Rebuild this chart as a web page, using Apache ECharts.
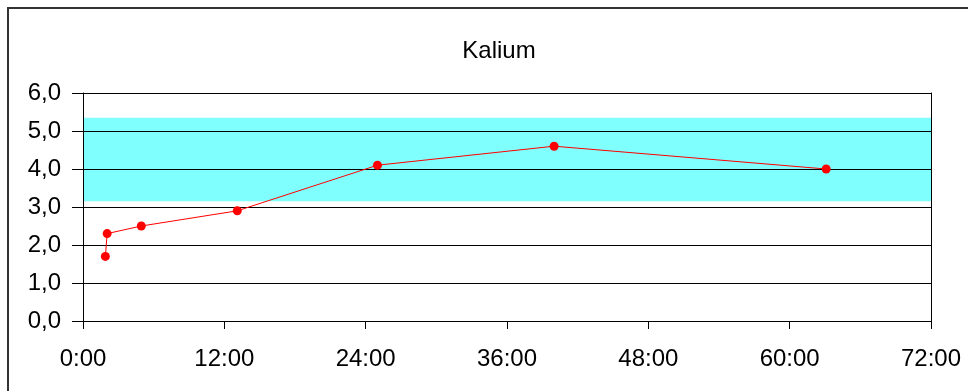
<!DOCTYPE html>
<html>
<head>
<meta charset="utf-8">
<script src="https://cdn.jsdelivr.net/npm/echarts@6/dist/echarts.min.js"></script>
<style>
  html, body { margin: 0; padding: 0; background: #fff; }
  #chart { width: 968px; height: 391px; }
</style>
</head>
<body>
<div id="chart"></div>
<script>
// Potassium measurements: hours since start and value (mmol/l)
const sampleHours = [1.9, 2.05, 4.95, 13.1, 25.0, 40.0, 63.1];
const kaliumValues = [1.7, 2.3, 2.5, 2.9, 4.1, 4.6, 4.0];
// Reference range band
const rangeLow = 3.15;
const rangeHigh = 5.35;
// Axis extents
const xMin = 0, xMax = 72, xStep = 12;
const yMin = 0, yMax = 6, yStep = 1;
const titleText = 'Kalium';

const font = '"Liberation Sans", Arial, sans-serif';
const chart = echarts.init(document.getElementById('chart'), null, { renderer: 'canvas' });

const points = sampleHours.map((h, i) => [h, kaliumValues[i]]);

chart.setOption({
  animation: false,
  backgroundColor: '#ffffff',
  title: {
    text: titleText,
    left: 494, top: 34,
    textAlign: 'center',
    textStyle: { fontFamily: font, fontSize: 24, fontWeight: 'normal', color: '#000' }
  },
  graphic: [{
    type: 'rect',
    shape: { x: 8, y: 8, width: 1100, height: 600 },
    style: { fill: 'none', stroke: '#333', lineWidth: 2 },
    silent: true
  }],
  grid: { left: 83, right: 37, top: 93, bottom: 70, containLabel: false },
  xAxis: {
    type: 'value', min: xMin, max: xMax, interval: xStep, z: 5,
    axisLine: { show: true, lineStyle: { color: '#000', width: 1 } },
    axisTick: { show: true, length: 8, lineStyle: { color: '#000' } },
    splitLine: { show: false },
    axisLabel: {
      margin: 26, fontFamily: font, fontSize: 24, color: '#000',
      formatter: v => v + ':00'
    }
  },
  yAxis: [{
    type: 'value', min: yMin, max: yMax, interval: yStep, z: 5,
    axisLine: { show: true, lineStyle: { color: '#000', width: 1 } },
    axisTick: { show: true, length: 11, lineStyle: { color: '#000' } },
    splitLine: { show: true, lineStyle: { color: '#000', width: 1 } },
    axisLabel: {
      margin: 22, fontFamily: font, fontSize: 24, color: '#000',
      padding: [6, 0, 0, 0],
      formatter: v => v.toFixed(1).replace('.', ',')
    }
  }, {
    type: 'value', min: yMin, max: yMax, interval: yStep, position: 'right', z: 5,
    axisLine: { show: true, lineStyle: { color: '#000', width: 1 } },
    axisTick: { show: false }, axisLabel: { show: false }, splitLine: { show: false }
  }],
  series: [{
    // reference range band
    type: 'line', data: [], z: 0, silent: true,
    markArea: {
      silent: true,
      itemStyle: { color: '#80ffff', opacity: 1 },
      data: [[{ yAxis: rangeLow }, { yAxis: rangeHigh }]]
    }
  }, {
    type: 'line', z: 6,
    data: points,
    symbol: 'circle', symbolSize: 9,
    itemStyle: { color: '#ff0000' },
    lineStyle: { color: '#ff0000', width: 1 }
  }]
});
</script>
</body>
</html>
